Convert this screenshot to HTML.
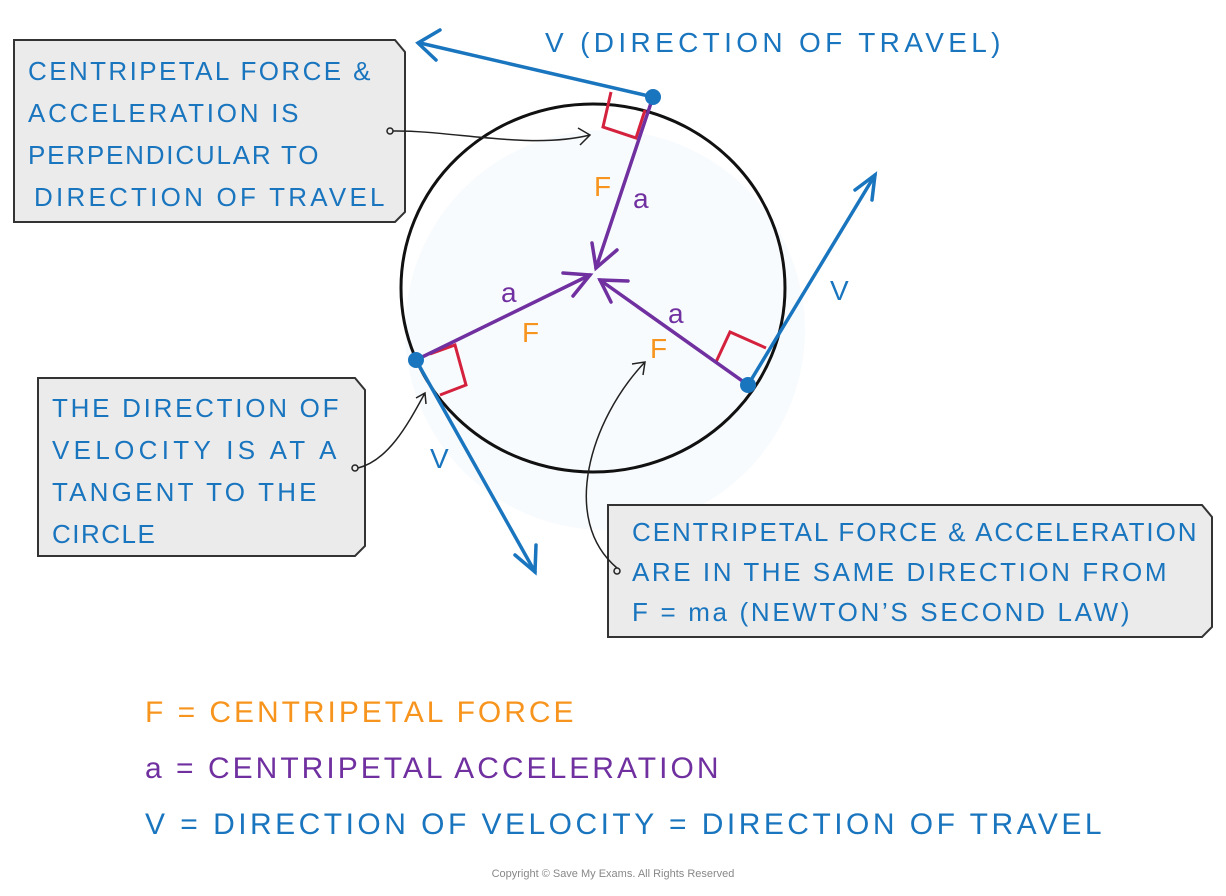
<!DOCTYPE html>
<html><head><style>
body{margin:0;background:#fff;width:1226px;height:896px;overflow:hidden;font-family:"Liberation Sans",sans-serif}
svg{position:absolute;left:0;top:0}
.t{font-family:"Liberation Sans",sans-serif;letter-spacing:1.5px}
</style></head><body>
<svg width="1226" height="896" viewBox="0 0 1226 896">
<circle cx="605" cy="330" r="200" fill="#f3f8fc" opacity="0.6"/>
<ellipse cx="593" cy="288" rx="192" ry="184" fill="none" stroke="#111" stroke-width="3"/>
<path d="M14,40 H395 L405,52 V212 L395,222 H14 Z" fill="#ebebeb" stroke="#333" stroke-width="2"/>
<path d="M38,378 H355 L365,390 V546 L355,556 H38 Z" fill="#ebebeb" stroke="#333" stroke-width="2"/>
<path d="M608,505 H1202 L1212,517 V627 L1202,637 H608 Z" fill="#ebebeb" stroke="#333" stroke-width="2"/>
<g class="t" fill="#1a75bf" font-size="26" lengthAdjust="spacing">
<text x="28" y="80" textLength="344">CENTRIPETAL  FORCE &amp;</text>
<text x="28" y="122" textLength="272">ACCELERATION  IS</text>
<text x="28" y="164" textLength="292">PERPENDICULAR  TO</text>
<text x="34" y="206" textLength="352">DIRECTION  OF  TRAVEL</text>
<text x="52" y="417" textLength="288">THE  DIRECTION  OF</text>
<text x="52" y="459" textLength="286">VELOCITY  IS  AT A</text>
<text x="52" y="501" textLength="266">TANGENT  TO THE</text>
<text x="52" y="543">CIRCLE</text>
<text x="632" y="541" textLength="566">CENTRIPETAL  FORCE  &amp;  ACCELERATION</text>
<text x="632" y="581" textLength="536">ARE  IN  THE  SAME  DIRECTION  FROM</text>
<text x="632" y="621" textLength="499">F = ma  (NEWTON’S  SECOND  LAW)</text>
<text x="545" y="52" font-size="28" textLength="457">V (DIRECTION  OF  TRAVEL)</text>
<text x="830" y="300" font-size="28">V</text>
<text x="430" y="468" font-size="28">V</text>
</g>
<g fill="none" stroke="#222" stroke-width="1.5">
<circle cx="390" cy="131" r="3"/><path d="M393,131 C450,130 530,150 590,135 M578,128 L590,135 L580,145"/>
<circle cx="355" cy="468" r="3"/><path d="M358,468 C390,460 410,420 425,393 M416,398 L425,393 L426,404"/>
<circle cx="617" cy="571" r="3"/><path d="M617,568 C560,520 590,420 645,362 M632,364 L645,362 L643,375"/>
</g>
<g fill="none" stroke="#d4213d" stroke-width="3">
<path d="M611,92 L603,127 L636,138 L645,110"/>
<path d="M430,354 L455,345 L466,385 L440,395"/>
<path d="M716,362 L730,332 L766,348"/>
</g>
<g stroke="#1a75bf" stroke-width="3.5" fill="none" stroke-linecap="round">
<path d="M653,97 L420,43"/><path d="M440,30 L418,43 L436,60"/>
<path d="M416,360 L535,572"/><path d="M515,555 L535,572 L536,545"/>
<path d="M748,385 L875,175"/><path d="M855,190 L875,175 L872,200"/>
</g>
<g stroke="#7030a0" stroke-width="3.5" fill="none" stroke-linecap="round">
<path d="M653,97 L596,268"/><path d="M592,243 L596,268 L617,250"/>
<path d="M416,360 L590,275"/><path d="M563,273 L590,275 L573,296"/>
<path d="M748,385 L600,280"/><path d="M628,281 L600,280 L611,302"/>
</g>
<g fill="#1a75bf"><circle cx="653" cy="97" r="8"/><circle cx="416" cy="360" r="8"/><circle cx="748" cy="385" r="8"/></g>
<g class="t" font-size="28">
<text x="594" y="196" fill="#f7941d">F</text>
<text x="633" y="208" fill="#7030a0">a</text>
<text x="501" y="302" fill="#7030a0">a</text>
<text x="522" y="342" fill="#f7941d">F</text>
<text x="668" y="323" fill="#7030a0">a</text>
<text x="650" y="358" fill="#f7941d">F</text>
</g>
<g class="t" font-size="30" lengthAdjust="spacing">
<text x="145" y="722" fill="#f7941d" textLength="430">F = CENTRIPETAL   FORCE</text>
<text x="145" y="778" fill="#7030a0" textLength="575">a = CENTRIPETAL   ACCELERATION</text>
<text x="145" y="834" fill="#1a75bf" textLength="958">V = DIRECTION  OF  VELOCITY = DIRECTION   OF   TRAVEL</text>
</g>
<text x="613" y="877" font-size="11" fill="#888" text-anchor="middle" font-family="Liberation Sans,sans-serif">Copyright © Save My Exams. All Rights Reserved</text>
</svg>
</body></html>
